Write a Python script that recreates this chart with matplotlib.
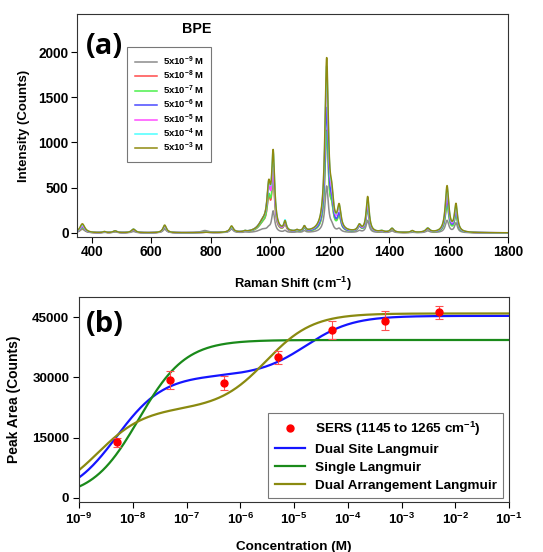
import numpy as np
import matplotlib
matplotlib.use("Agg")
import matplotlib.pyplot as plt
from matplotlib.ticker import FixedLocator, NullLocator
from matplotlib.lines import Line2D

plt.rcParams['font.family'] = ['Liberation Sans', 'DejaVu Sans']
plt.rcParams['font.weight'] = 'bold'
plt.rcParams['mathtext.fontset'] = 'custom'
plt.rcParams['mathtext.rm'] = 'Liberation Sans:bold'
plt.rcParams['mathtext.bf'] = 'Liberation Sans:bold'
plt.rcParams['mathtext.it'] = 'Liberation Sans:bold'

# ---- panel (a) : SERS spectra of BPE ----
conc_labels = ["5x10$^{-9}$ M", "5x10$^{-8}$ M", "5x10$^{-7}$ M", "5x10$^{-6}$ M",
               "5x10$^{-5}$ M", "5x10$^{-4}$ M", "5x10$^{-3}$ M"]
conc_colors = ["#8c8c8c", "#ff4a4a", "#4cf04c", "#4a4aff", "#ff4cff", "#4cffff", "#8f8a10"]

peak_pos = [368, 442, 478, 540, 645, 780, 870, 915, 975, 995, 1010, 1050, 1090, 1115,
            1190, 1207, 1232, 1300, 1328, 1375, 1410, 1478, 1530, 1595, 1625]
peak_hw = [10, 6, 8, 8, 7, 15, 7, 5, 18, 7, 6, 5, 5, 5,
           7, 7, 7, 7, 6, 8, 7, 6, 8, 7, 6]
peaks_5e9 = [40, 5, 10, 15, 40, 25, 40, 5, 35, 30, 230, 20, 5, 20,
             510, 50, 35, 20, 135, 5, 20, 5, 20, 135, 105]
peaks_5e8 = [50, 8, 15, 30, 60, 5, 55, 8, 80, 300, 520, 80, 10, 45,
             1100, 190, 160, 55, 270, 10, 35, 12, 35, 320, 200]
peaks_5e7 = [55, 8, 15, 30, 60, 5, 55, 8, 80, 320, 560, 85, 10, 45,
             1090, 180, 150, 55, 255, 10, 35, 12, 35, 300, 185]
peaks_5e6 = [70, 10, 18, 35, 70, 5, 60, 8, 100, 400, 680, 90, 12, 50,
             1350, 210, 170, 60, 300, 12, 40, 15, 40, 385, 230]
peaks_5e5 = [75, 10, 18, 35, 70, 5, 60, 8, 100, 420, 620, 90, 15, 55,
             1680, 240, 220, 65, 320, 12, 40, 15, 40, 440, 260]
peaks_5e4 = [90, 12, 20, 40, 80, 5, 65, 10, 95, 420, 800, 110, 15, 55,
             1800, 260, 240, 70, 370, 15, 45, 18, 45, 490, 285]
peaks_5e3 = [100, 12, 20, 40, 85, 5, 70, 10, 95, 430, 820, 100, 15, 55,
             1890, 270, 250, 70, 390, 15, 45, 20, 45, 510, 300]
spectra_peaks = [peaks_5e9, peaks_5e8, peaks_5e7, peaks_5e6, peaks_5e5, peaks_5e4, peaks_5e3]

# ---- panel (b) : adsorption isotherm ----
conc = [5e-9, 5e-8, 5e-7, 5e-6, 5e-5, 5e-4, 5e-3]
peak_area = [13800, 29400, 28700, 35000, 41700, 44100, 46200]
peak_area_err = [1100, 2300, 1750, 1650, 2250, 2300, 1650]

# fitted model parameters
single_q, single_k = 39300, 7.7e7
dual_site_q = [30500, 14800]
dual_site_k = [2.0e8, 6.0e4]
dual_arr_q = [22300, 23600]
dual_arr_k = [4.5e8, 3.3e5]


def langmuir(c, q, k):
    return q * k * c / (1 + k * c)


def spectrum(x, heights):
    y = np.zeros_like(x)
    for p, w, h in zip(peak_pos, peak_hw, heights):
        y += h / (1 + ((x - p) / w) ** 2)
    return y


fig = plt.figure(figsize=(5.43, 5.52), dpi=100)

ax1 = fig.add_axes([0.1418, 0.5707, 0.7937, 0.4039])
shift = np.linspace(350, 1800, 3000)
for lab, col, hts in zip(conc_labels, conc_colors, spectra_peaks):
    ax1.plot(shift, spectrum(shift, hts), color=col, lw=1.1, label=lab)
ax1.set_xlim(350, 1800)
ax1.set_ylim(-45, 2420)
ax1.set_xticks([400, 600, 800, 1000, 1200, 1400, 1600, 1800])
ax1.set_yticks([0, 500, 1000, 1500, 2000])
ax1.tick_params(direction='out', length=4, width=0.8, labelsize=9.8, pad=2)
ax1.set_xlabel("Raman Shift (cm$^{-1}$)", fontsize=9.3, fontweight='bold', labelpad=11)
ax1.set_ylabel("Intensity (Counts)", fontsize=9.5, fontweight='bold', labelpad=6)
for s in ax1.spines.values():
    s.set_linewidth(0.8)
    s.set_color('#333333')
ax1.text(0.02, 0.82, "(a)", transform=ax1.transAxes, fontsize=21,
         fontweight='bold', family='Open Sans')
ax1.text(0.243, 0.915, "BPE", transform=ax1.transAxes, fontsize=10.3, fontweight='bold')
leg1 = ax1.legend(loc='upper left', bbox_to_anchor=(0.116, 0.852), fontsize=6.8,
                  frameon=True, fancybox=False, edgecolor='#555555',
                  handlelength=2.4, handletextpad=0.6, labelspacing=0.12,
                  borderpad=0.8, borderaxespad=0)
leg1.get_frame().set_linewidth(0.8)

ax2 = fig.add_axes([0.1455, 0.0906, 0.7919, 0.3714])
cgrid = np.logspace(-9, -1, 400)
ax2.errorbar(conc, peak_area, yerr=peak_area_err, fmt='o', color='red', ms=5,
             ecolor='#ff5050', elinewidth=0.8, capsize=3, capthick=0.8, zorder=5)
l1, = ax2.plot(cgrid, langmuir(cgrid, dual_site_q[0], dual_site_k[0]) +
               langmuir(cgrid, dual_site_q[1], dual_site_k[1]),
               color='#1515ff', lw=1.6)
l2, = ax2.plot(cgrid, langmuir(cgrid, single_q, single_k), color='#1a8a1a', lw=1.6)
l3, = ax2.plot(cgrid, langmuir(cgrid, dual_arr_q[0], dual_arr_k[0]) +
               langmuir(cgrid, dual_arr_q[1], dual_arr_k[1]),
               color='#8a8a10', lw=1.6)
dot = Line2D([], [], ls='none', marker='o', color='red', ms=5)
ax2.set_xscale('log')
ax2.set_xlim(1e-9, 1e-1)
ax2.set_ylim(-1000, 50000)
ax2.xaxis.set_major_locator(FixedLocator([10.0 ** e for e in range(-9, 0)]))
ax2.xaxis.set_minor_locator(NullLocator())
ax2.set_xticklabels(["10$^{%d}$" % e for e in range(-9, 0)])
ax2.set_yticks([0, 15000, 30000, 45000])
ax2.tick_params(direction='out', length=4, width=0.8, labelsize=9.6, pad=3)
ax2.set_xlabel("Concentration (M)", fontsize=9.7, fontweight='bold', labelpad=10)
ax2.set_ylabel("Peak Area (Counts)", fontsize=10, fontweight='bold', labelpad=8)
for s in ax2.spines.values():
    s.set_linewidth(0.8)
    s.set_color('#333333')
ax2.text(0.015, 0.83, "(b)", transform=ax2.transAxes, fontsize=21,
         fontweight='bold', family='Open Sans')
leg2 = ax2.legend([dot, l1, l2, l3],
                  ["SERS (1145 to 1265 cm$^{-1}$)", "Dual Site Langmuir",
                   "Single Langmuir", "Dual Arrangement Langmuir"],
                  loc='lower right', bbox_to_anchor=(0.986, 0.02), fontsize=9.7,
                  frameon=True, fancybox=False, edgecolor='#555555',
                  handlelength=2.3, handletextpad=0.7, labelspacing=0.42,
                  borderpad=0.45, borderaxespad=0)
leg2.get_frame().set_linewidth(0.8)

fig.savefig("out.png", dpi=100)
